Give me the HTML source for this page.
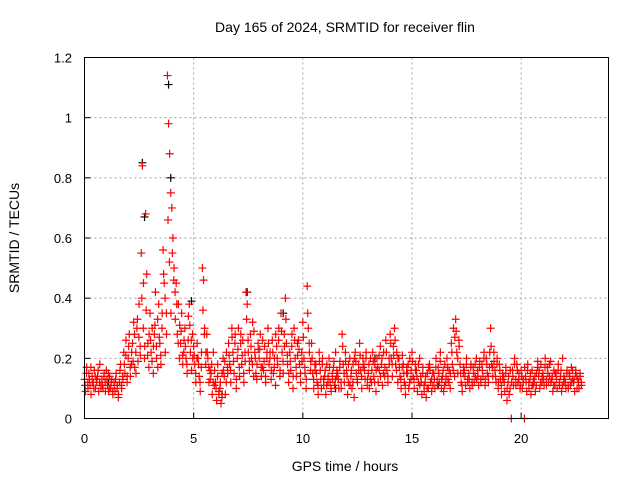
<!DOCTYPE html>
<html><head><meta charset="utf-8"><style>
body{margin:0;background:#fff}
svg{display:block;font-family:"Liberation Sans",sans-serif}
</style></head><body>
<svg id="chart" width="640" height="480" viewBox="0 0 640 480">
<rect width="640" height="480" fill="#fff"/>
<text x="345" y="32" font-size="14" text-anchor="middle">Day 165 of 2024, SRMTID for receiver flin</text>
<text transform="translate(19,238) rotate(-90)" font-size="14" text-anchor="middle">SRMTID / TECUs</text>
<text x="345" y="471" font-size="14" text-anchor="middle">GPS time / hours</text>
<g id="grid"></g><g id="ticks"></g><g id="marks"></g>
<rect x="84.5" y="57.5" width="524" height="361" fill="none" stroke="#000" stroke-width="1"/>
</svg>
<script>
const xTicks=[0,5,10,15,20];
const yTicks=[0,0.2,0.4,0.6,0.8,1,1.2];
const yTickLabels=["0","0.2","0.4","0.6","0.8","1","1.2"];
const binStep=0.2;
const redBins=[
[.13,.09,.17,.12],[.15,.11,.08,.14],[.12,.16,.10,.13],[.14,.09,.18,.11],[.13,.10,.15,.12],
[.16,.11,.09,.14],[.10,.13,.08,.12],[.09,.15,.11,.07],[.12,.18,.10,.14],[.22,.15,.26,.12],
[.20,.28,.14,.18],[.25,.32,.17,.22],[.30,.19,.38,.24],[.55,.84,.45,.20],[.68,.48,.25,.17],
[.35,.22,.30,.15],[.28,.42,.20,.33],[.38,.25,.18,.30],[.56,.45,.22,.35],[1.14,.98,.88,.75],
[.70,.60,.50,.42],[.45,.28,.38,.20],[.25,.35,.18,.22],[.30,.20,.15,.26],[.38,.22,.16,.28],
[.24,.18,.12,.20],[.20,.14,.09,.17],[.50,.46,.30,.18],[.28,.20,.12,.16],[.15,.08,.22,.11],
[.12,.06,.18,.09],[.10,.05,.15,.20],[.14,.08,.22,.17],[.25,.18,.12,.30],[.22,.15,.28,.10],
[.20,.30,.14,.25],[.18,.26,.12,.22],[.42,.38,.22,.16],[.28,.20,.32,.14],[.22,.15,.18,.25],
[.20,.28,.14,.17],[.16,.24,.12,.20],[.30,.18,.22,.13],[.26,.15,.20,.11],[.24,.18,.30,.14],
[.35,.22,.15,.28],[.40,.25,.18,.12],[.22,.16,.28,.10],[.30,.20,.14,.25],[.26,.18,.12,.22],
[.32,.20,.15,.10],[.44,.30,.22,.16],[.25,.15,.10,.18],[.18,.12,.08,.22],[.16,.10,.20,.13],
[.14,.08,.18,.12],[.20,.12,.09,.15],[.17,.11,.22,.14],[.15,.10,.19,.12],[.28,.18,.12,.22],
[.16,.08,.12,.20],[.14,.10,.18,.07],[.22,.15,.12,.18],[.25,.16,.10,.20],[.18,.13,.22,.11],
[.15,.10,.20,.12],[.22,.14,.18,.09],[.20,.12,.16,.24],[.18,.11,.22,.14],[.26,.16,.12,.20],
[.28,.20,.14,.24],[.30,.18,.22,.12],[.20,.14,.10,.17],[.18,.12,.08,.15],[.15,.10,.20,.13],
[.22,.14,.10,.18],[.16,.09,.12,.20],[.14,.08,.17,.11],[.12,.07,.15,.10],[.18,.12,.09,.15],
[.15,.10,.20,.13],[.17,.12,.22,.10],[.14,.09,.18,.12],[.20,.13,.16,.10],[.25,.18,.30,.14],
[.33,.22,.15,.26],[.18,.12,.09,.15],[.16,.11,.20,.13],[.15,.10,.18,.12],[.17,.12,.14,.20],
[.16,.11,.19,.13],[.18,.14,.22,.11],[.20,.15,.12,.17],[.30,.18,.14,.22],[.16,.12,.20,.10],
[.18,.13,.08,.15],[.14,.09,.17,.06],[.12,.08,.16,.00],[.16,.11,.20,.13],[.18,.12,.15,.10],
[.16,.10,.13,.00],[.14,.09,.18,.12],[.13,.08,.16,.11],[.12,.09,.15,.17],[.14,.10,.18,.12],
[.15,.11,.20,.13],[.17,.12,.14,.19],[.13,.09,.16,.11],[.15,.10,.18,.12],[.14,.09,.20,.12],
[.13,.10,.16,.11],[.15,.11,.17,.13],[.12,.09,.16,.14],[.13,.10,.15,.12]];
const redBins2=[
[.11,.15,.10],[.13,.17,.12],[.10,.14,.12],[.16,.12,.10],[.11,.14,.09],
[.13,.15,.10],[.12,.09,.11],[.13,.10,.08],[.16,.11,.13],[.18,.21,.14],
[.24,.17,.22],[.19,.28,.15],[.33,.27,.21],[.40,.30,.24],[.36,.21,.28],
[.26,.19,.24],[.31,.24,.17],[.27,.21,.35],[.48,.40,.28],[.66,.52,.35],
[.55,.46,.33],[.38,.25,.31],[.29,.21,.26],[.24,.18,.34],[.31,.26,.20],
[.21,.15,.25],[.18,.12,.22],[.36,.28,.22],[.22,.17,.13],[.18,.12,.16],
[.10,.14,.08],[.12,.07,.16],[.19,.12,.15],[.21,.16,.27],[.19,.25,.13],
[.23,.17,.28],[.21,.15,.19],[.33,.26,.19],[.24,.18,.29],[.20,.13,.23],
[.23,.17,.26],[.19,.14,.22],[.25,.20,.16],[.22,.17,.28],[.20,.26,.16],
[.29,.19,.24],[.33,.21,.15],[.19,.24,.14],[.26,.17,.21],[.23,.15,.19],
[.27,.17,.13],[.35,.25,.19],[.20,.13,.16],[.15,.11,.19],[.13,.18,.11],
[.16,.11,.14],[.17,.10,.13],[.19,.13,.16],[.13,.17,.10],[.24,.15,.19],
[.14,.18,.11],[.16,.12,.20],[.19,.13,.16],[.21,.14,.17],[.16,.20,.13],
[.18,.13,.16],[.19,.12,.16],[.17,.21,.14],[.20,.15,.17],[.22,.14,.18],
[.25,.18,.21],[.26,.16,.20],[.17,.13,.21],[.15,.11,.17],[.18,.12,.16],
[.19,.13,.16],[.14,.18,.11],[.12,.15,.09],[.14,.10,.17],[.16,.13,.11],
[.13,.17,.11],[.15,.19,.13],[.16,.11,.14],[.17,.12,.15],[.22,.16,.27],
[.29,.20,.24],[.15,.11,.17],[.14,.18,.12],[.13,.17,.11],[.15,.18,.13],
[.14,.17,.12],[.16,.20,.13],[.18,.14,.22],[.24,.17,.19],[.14,.18,.12],
[.16,.11,.13],[.12,.15,.10],[.14,.10,.12],[.14,.18,.11],[.16,.13,.11],
[.14,.12,.17],[.12,.16,.10],[.15,.11,.13],[.14,.11,.19],[.16,.12,.14],
[.13,.17,.11],[.15,.18,.12],[.14,.11,.15],[.13,.16,.11],[.16,.11,.14],
[.12,.15,.10],[.14,.12,.16],[.13,.15,.10],[.12,.14,.11]];
const blackTimes=[2.65,2.75,3.85,3.95,4.9,7.45,9.1,13.3,1.1,6.3,11.5,16.2];
const blackValues=[0.85,0.67,1.11,0.80,0.39,0.42,0.35,0.20,0.12,0.08,0.10,0.11];
const NS='http://www.w3.org/2000/svg';
const L=84.5,R=608.5,T=57.5,B=418.5;
const xs=h=>L+(h/24)*(R-L);
const ys=v=>B-(v/1.2)*(B-T);
function mk(tag,attrs,parent){const e=document.createElementNS(NS,tag);for(const k in attrs)e.setAttribute(k,attrs[k]);parent.appendChild(e);return e;}
const grid=document.getElementById('grid'),ticks=document.getElementById('ticks'),marks=document.getElementById('marks');
xTicks.forEach(t=>{const x=xs(t);
 if(t>0){const g=mk('line',{x1:x,x2:x,y1:T,y2:B,stroke:'#a0a0a0','stroke-dasharray':'2,3'},grid);
 
 }
 const tx=mk('text',{x:x,y:443,'font-size':13,'text-anchor':'middle'},ticks);tx.textContent=t;
 
 
 mk('line',{x1:x,x2:x,y1:B,y2:B-6,stroke:'#000'},ticks);});
yTicks.forEach((t,i)=>{const y=ys(t);
 if(t>0&&t<1.2){const g=mk('line',{x1:L,x2:R,y1:y,y2:y,stroke:'#a0a0a0','stroke-dasharray':'2,3'},grid);
 
 }
 const tx=mk('text',{x:72,y:y+5,'font-size':13,'text-anchor':'end'},ticks);tx.textContent=yTickLabels[i];
 
 
 mk('line',{x1:L,x2:L+6,y1:y,y2:y,stroke:'#000'},ticks);});
function plus(h,v,color,name){const x=xs(h),y=ys(v);
 const p=mk('path',{d:`M${x-4},${y}h8M${x},${y-4}v8`,stroke:color,'stroke-width':1.2,fill:'none'},marks);
 
 }
blackTimes.forEach((h,i)=>plus(h,blackValues[i],'#000','black-point'));
redBins.forEach((bin,i)=>bin.forEach((v,j)=>plus(i*binStep+j*binStep/4,v,'#ff0000','srmtid-point')));
redBins2.forEach((bin,i)=>bin.forEach((v,j)=>plus(i*binStep+binStep/8+j*binStep/3,v,'#ff0000','srmtid-point')));
</script>
</body></html>
